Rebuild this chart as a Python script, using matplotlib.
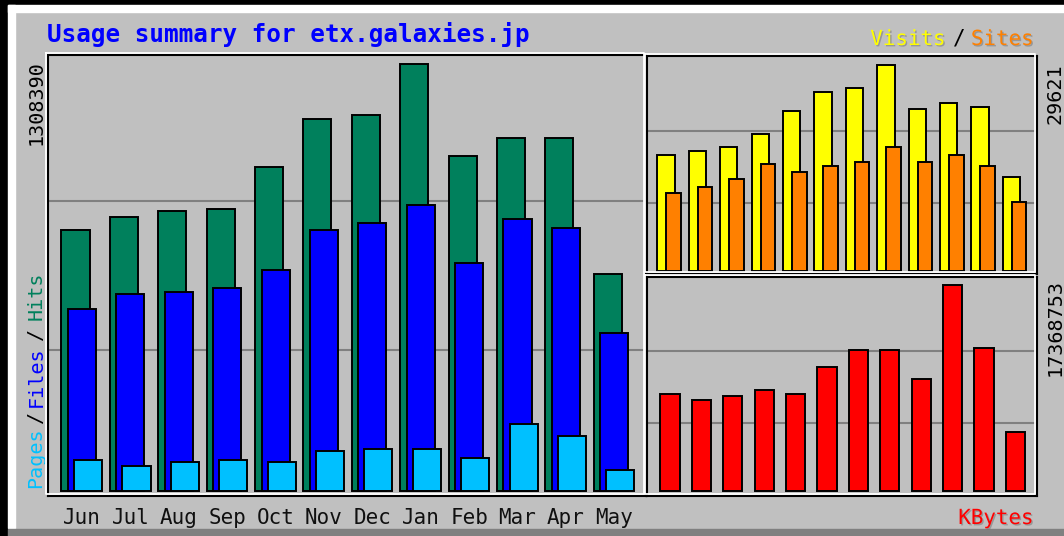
import matplotlib
matplotlib.use('Agg')
import matplotlib.pyplot as plt
import matplotlib.transforms as mtransforms
import matplotlib.patheffects as pe
from matplotlib.lines import Line2D
from matplotlib.patches import Rectangle
import numpy as np

# monthly usage
months = ['Jun', 'Jul', 'Aug', 'Sep', 'Oct', 'Nov', 'Dec', 'Jan', 'Feb', 'Mar', 'Apr', 'May']
hits = [798500, 838500, 856900, 863000, 992000, 1139400, 1151700, 1308390, 1025800, 1081100, 1081100, 663400]
files = [559000, 605000, 611200, 623500, 678700, 798500, 820000, 875300, 697200, 832300, 804700, 485300]
pages = [95200, 76800, 89100, 95200, 89100, 122900, 129000, 129000, 101400, 205800, 168900, 64500]
visits = [16617, 17240, 17870, 19650, 22975, 25680, 26300, 29621, 23265, 24175, 23600, 13580]
sites = [11170, 12090, 13250, 15420, 14200, 15130, 15710, 17820, 15710, 16620, 15130, 9970]
kbytes = [8163600, 7656800, 7994600, 8557600, 8163600, 10471900, 11879400, 11879400, 9430300, 17368753, 12048300, 4982600]

W, H = 1064, 536
BG = '#c0c0c0'
MONO = 'DejaVu Sans Mono'
shadow = [pe.SimplePatchShadow(offset=(1, -1), shadow_rgbFace='#707070', alpha=0.5), pe.Normal()]

fig = plt.figure(figsize=(W / 100, H / 100), dpi=100, facecolor=BG)


def fx(x):
    return x / W


def fy(y):
    return 1 - y / H


def box(x0, y0, x1, y1):
    return [fx(x0), fy(y1), (x1 - x0) / W, (y1 - y0) / H]


def bevel(x0, y0, x1, y1):
    xs = [x0 - 2, x1 - 2, x1 - 2, x0 - 2, x0 - 2]
    ys = [y0 - 2, y0 - 2, y1 - 2, y1 - 2, y0 - 2]
    fig.add_artist(Line2D([fx(v) for v in xs], [fy(v) for v in ys],
                          transform=fig.transFigure, color='white', lw=1.3, zorder=5))


def make_axes(x0, y0, x1, y1, vmax, top, bottom, xlim):
    ax = fig.add_axes(box(x0, y0, x1, y1))
    ax.set_facecolor(BG)
    for s in ax.spines.values():
        s.set_color('black')
        s.set_linewidth(1.5)
    ax.set_xticks([])
    ax.set_yticks([])
    ax.set_xlim(*xlim)
    ax.set_ylim(-vmax * bottom, vmax * top)
    for f in (0.33, 0.68):
        ax.axhline(vmax * f, color='#808080', lw=1.5, zorder=1)
    bevel(x0, y0, x1, y1)
    return ax


x = np.arange(len(months))

# outer window frame
fig.add_artist(Rectangle((0, fy(5)), 1, 5 / H, transform=fig.transFigure, color='black', zorder=0))
fig.add_artist(Rectangle((0, 0), fx(8), 1, transform=fig.transFigure, color='black', zorder=0))
fig.add_artist(Rectangle((fx(8), fy(12)), 1, 7 / H, transform=fig.transFigure, color='white', zorder=0))
fig.add_artist(Rectangle((fx(8), fy(528)), 7 / W, (528 - 5) / H, transform=fig.transFigure, color='white', zorder=0))
fig.add_artist(Rectangle((fx(8), 0), 1, 7 / H, transform=fig.transFigure, color='#808080', zorder=0))

# hits / files / pages
vm = max(hits)
ax1 = make_axes(48, 55, 646, 496, vm, 436 / 427, 5 / 427, (-0.704, 11.656))
ax1.bar(x - 0.135, hits, width=0.58, color='#00805c', edgecolor='black', lw=1.4, zorder=2)
ax1.bar(x, files, width=0.58, color='#0000ff', edgecolor='black', lw=1.4, zorder=3)
ax1.bar(x + 0.125, pages, width=0.58, color='#00c0ff', edgecolor='black', lw=1.4, zorder=4)

# visits / sites
vm2 = max(visits)
ax2 = make_axes(647, 56, 1037, 274, vm2, 215 / 206, 3 / 206, (-0.732, 11.688))
ax2.bar(x - 0.127, visits, width=0.554, color='#ffff00', edgecolor='black', lw=1.4, zorder=2)
ax2.bar(x + 0.118, sites, width=0.468, color='#ff8000', edgecolor='black', lw=1.4, zorder=3)

# kbytes
vm3 = max(kbytes)
ax3 = make_axes(647, 277, 1037, 496, vm3, 214 / 206, 5 / 206, (-0.732, 11.688))
ax3.bar(x, kbytes, width=0.615, color='#ff0000', edgecolor='black', lw=1.4, zorder=2)

# month labels under the main panel
trans = mtransforms.blended_transform_factory(ax1.transData, fig.transFigure)
for i, m in enumerate(months):
    fig.text(x[i], fy(524), m, transform=trans, ha='center', va='baseline',
             fontsize=15, family=MONO, color='#101010')

# titles and legends
fig.text(fx(47), fy(42), 'Usage summary for etx.galaxies.jp', color='#0000ff',
         fontsize=17.5, fontweight='bold', family=MONO, va='baseline')
fig.text(fx(946), fy(45), 'Visits', color='#ffff00', fontsize=15, family=MONO, ha='right', va='baseline',
         path_effects=shadow)
fig.text(fx(959), fy(45), '/', color='black', fontsize=15, family=MONO, ha='center', va='baseline')
fig.text(fx(1034), fy(45), 'Sites', color='#ff8000', fontsize=15, family=MONO, ha='right', va='baseline',
         path_effects=shadow)
fig.text(fx(1034), fy(524), 'KBytes', color='#ff0000', fontsize=15, family=MONO, ha='right', va='baseline',
         path_effects=shadow)

for txt, col, y0 in [('Pages', '#00c0ff', 488), ('/', 'black', 423), ('Files', '#0000ff', 407),
                     ('/', 'black', 340), ('Hits', '#00805c', 320)]:
    fig.text(fx(36), fy(y0), txt, color=col, fontsize=14.5, family=MONO,
             rotation=90, ha='center', va='bottom')

# max value labels
fig.text(fx(36), fy(60), str(max(hits)), fontsize=14.5, family=MONO, rotation=90, ha='center', va='top')
fig.text(fx(1055), fy(63), str(max(visits)), fontsize=14.5, family=MONO, rotation=90, ha='center', va='top')
fig.text(fx(1055), fy(279), str(max(kbytes)), fontsize=14.5, family=MONO, rotation=90, ha='center', va='top')

fig.savefig('out.png', dpi=100, facecolor=BG)
